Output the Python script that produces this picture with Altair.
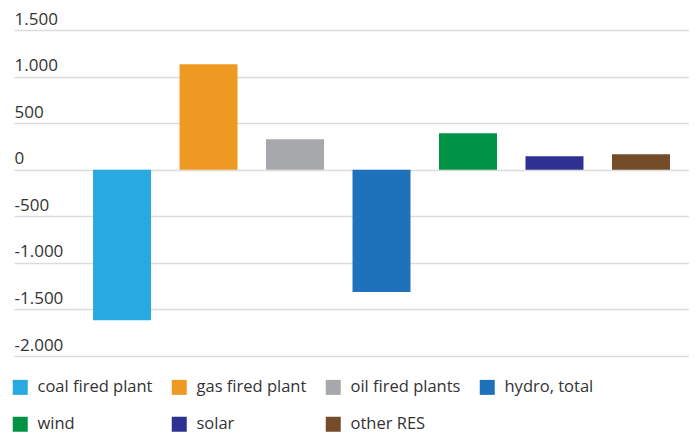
import altair as alt
import pandas as pd

categories = ["coal fired plant", "gas fired plant", "oil fired plants", "hydro, total",
              "wind", "solar", "other RES"]
values = [-1615, 1132, 327, -1314, 392, 145, 166]
colors = ["#29a9e1", "#ee9a22", "#a7a8ab", "#1d72bb", "#009245", "#2e3192", "#754c29"]
y_ticks = [-2000, -1500, -1000, -500, 0, 500, 1000, 1500]

df = pd.DataFrame({"cat": categories, "val": values})

FONT = "Open Sans"

chart = alt.Chart(df).mark_bar().encode(
    x=alt.X("cat:N", sort=categories, axis=None,
            scale=alt.Scale(paddingInner=0.3295, paddingOuter=0.567, align=0.806)),
    y=alt.Y("val:Q", scale=alt.Scale(domain=[-2000, 1500], nice=False),
            axis=alt.Axis(values=y_ticks, title=None, domain=False, ticks=False,
                          labelAlign="left", labelBaseline="alphabetic", labelPadding=0,
                          labelOffset=-6, labelFont=FONT, labelFontSize=17,
                          labelColor="#333333", gridColor="#dcdcdc", gridWidth=1.5,
                          labelExpr="(datum.value < 0 ? '-' : '') + replace(format(abs(datum.value), ','), ',', '.')")),
    color=alt.Color("cat:N", sort=categories,
                    scale=alt.Scale(domain=categories, range=colors),
                    legend=alt.Legend(title=None, orient="none", legendX=-2, legendY=349,
                                      direction="horizontal", columns=4, symbolType="square",
                                      symbolSize=225, symbolStrokeWidth=0, symbolOpacity=1,
                                      labelFont=FONT, labelFontSize=16.5, labelColor="#333333",
                                      labelOffset=9, columnPadding=18, rowPadding=20,
                                      labelLimit=300)),
).properties(
    width=675, height=326,
    autosize=alt.AutoSizeParams(type="none"),
    padding={"left": 6, "top": 22, "right": 0, "bottom": 77},
).configure_view(stroke=None)

chart.save("out.html", embed_options={"renderer": "svg", "actions": False})
